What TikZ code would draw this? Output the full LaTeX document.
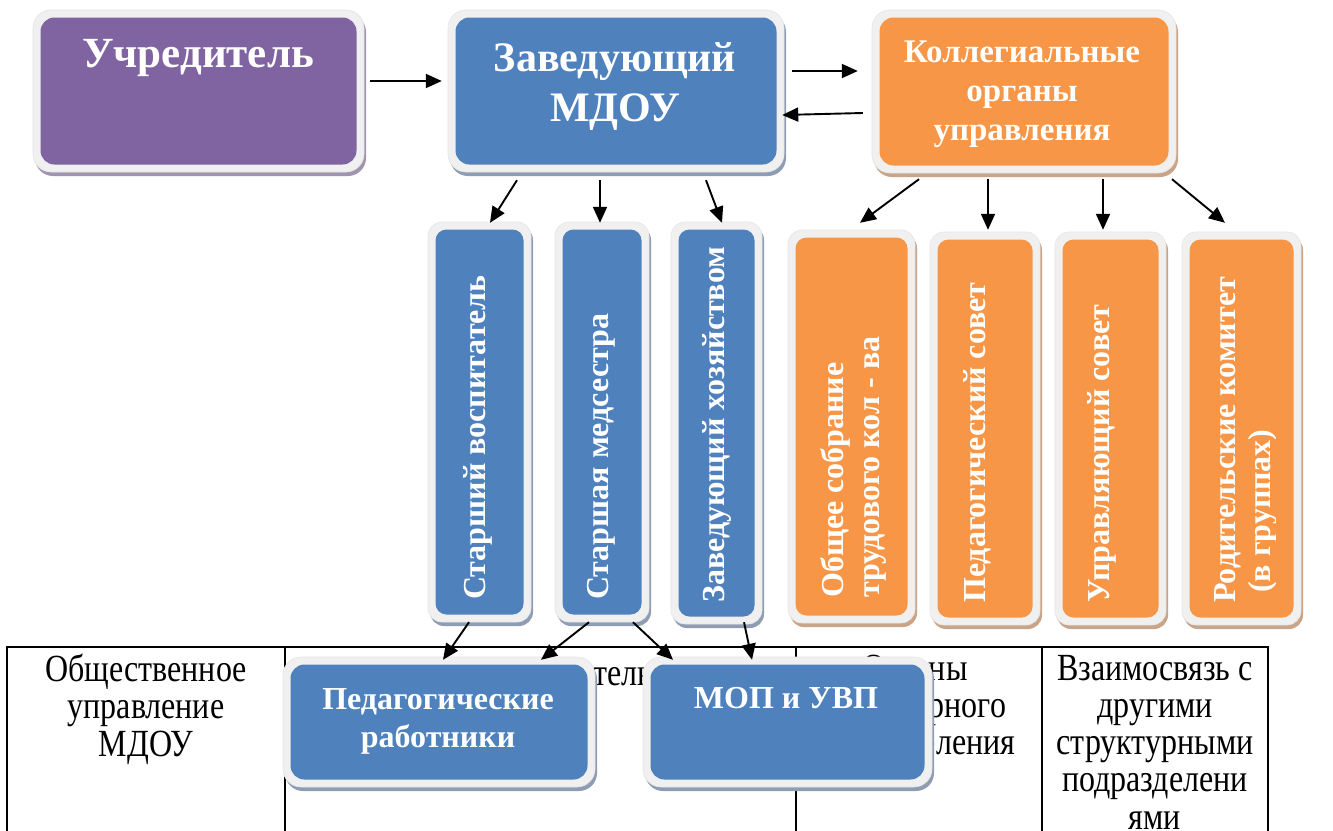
\documentclass[tikz,border=0pt]{standalone}
\usepackage{fontspec}
\usepackage{graphicx}
\setmainfont{Liberation Serif}
\usetikzlibrary{arrows.meta,calc}
\definecolor{cpur}{HTML}{8064A2}
\definecolor{cblue}{HTML}{4F81BD}
\definecolor{corange}{HTML}{F79646}
\definecolor{rimc}{HTML}{F0F0F0}
\definecolor{shblue}{HTML}{8E9DB3}
\definecolor{shpur}{HTML}{A094AE}
\definecolor{shor}{HTML}{C9A486}
\tikzset{
  arr/.style={line width=1.9pt, -{Triangle[length=16pt,width=14pt]}},
  wt/.style={text=white, inner sep=0pt},
  vt/.style={wt, rotate=90, anchor=west, font=\fontsize{32}{36}\selectfont\bfseries},
  tbl/.style={line width=2.2pt},
  ttext/.style={inner sep=0pt, anchor=north},
}
\newcommand\tcell[1]{\scalebox{1}[1.2]{\fontsize{32}{31}\selectfont\setlength\tabcolsep{0pt}\begin{tabular}{c}#1\end{tabular}}}
% name, x1, y1, x2, y2, fill, shadow, outer radius, inner radius
\newcommand\rbox[9]{%
  \fill[#7, rounded corners=#8] (#2+2,#3+4) rectangle (#4+2,#5+4);
  \fill[rimc, rounded corners=#8] (#2,#3) rectangle (#4,#5);
  \draw[black!10, line width=0.6pt, rounded corners=#8] (#2,#3) rectangle (#4,#5);
  \node[fill=#6, rounded corners=#9, inner sep=0pt, minimum width={#4-#2-15}, minimum height={#5-#3-15}] (#1) at ({(#2+#4)/2},{(#3+#5)/2}) {};
}
\begin{document}
\begin{tikzpicture}[x=1pt,y=-1pt]
\useasboundingbox (0,0) rectangle (1333,830);
\clip (0,0) rectangle (1333,830);
\fill[white] (0,0) rectangle (1333,830);

% ---- table ----
\coordinate (t0) at (7,647);
\coordinate (t1) at (285,647);
\coordinate (t2) at (796,647);
\coordinate (t3) at (1042,647);
\coordinate (t4) at (1268,647);
\draw[tbl] ([xshift=-1pt]t0) -- ([xshift=1pt]t4);
\foreach \c in {t0,t1,t2,t3,t4} \draw[tbl] (\c) -- ++(0,200);
\node[ttext] (c1) at (146,654) {\tcell{Общественное\\управление\\МДОУ}};
\node[ttext] (c2) at (527,659) {\tcell{Педагогическая деятельность}};
\node[ttext] (c3) at (915,654) {\tcell{Органы\\структурного\\подразделения}};
\node[ttext] (c4) at (1155,654) {\tcell{Взаимосвязь с\\другими\\структурными\\подразделени\\ями}};

% ---- top boxes ----
\rbox{uch}{33}{10}{364}{172}{cpur}{shpur}{18pt}{14pt}
\rbox{zav}{448}{10}{784}{172}{cblue}{shblue}{18pt}{14pt}
\rbox{kol}{872}{10}{1176}{173}{corange}{shor}{18pt}{14pt}
\node[wt, font=\fontsize{43}{50}\selectfont\bfseries] (uch-t) at (198,58) {Учредитель};
\node[wt, font=\fontsize{42}{50}\selectfont\bfseries, align=center, anchor=north] (zav-t) at (615,42) {Заведующий\\МДОУ};
\node[wt, font=\fontsize{33}{39}\selectfont\bfseries, align=center, anchor=north] (kol-t) at (1022,41) {Коллегиальные\\органы\\управления};

% ---- vertical blue boxes ----
\rbox{sv}{428}{222}{531}{622}{cblue}{shblue}{14pt}{11pt}
\rbox{sm}{555}{222}{649}{622}{cblue}{shblue}{14pt}{11pt}
\rbox{zh}{671}{222}{762}{624}{cblue}{shblue}{14pt}{11pt}
\node[vt] (sv-t) at (478,600) {Старший воспитатель};
\node[vt] (sm-t) at (601,600) {Старшая медсестра};
\node[vt] (zh-t) at (717,603) {Заведующий хозяйством};

% ---- vertical orange boxes ----
\rbox{os}{788}{230}{915}{623}{corange}{shor}{14pt}{11pt}
\rbox{ps}{930}{232}{1040}{625}{corange}{shor}{14pt}{11pt}
\rbox{us}{1055}{232}{1166}{625}{corange}{shor}{14pt}{11pt}
\rbox{rk}{1182}{232}{1301}{625}{corange}{shor}{14pt}{11pt}
\node[vt] (os-t1) at (835,598) {Общее собрание};
\node[vt] (os-t2) at (875,598) {трудового кол - ва};
\node[vt] (ps-t) at (977,603) {Педагогический совет};
\node[vt] (us-t) at (1102,603) {Управляющий совет};
\node[vt] (rk-t1) at (1228,603) {Родительские комитет};
\begin{scope}
  \clip (1182,232) rectangle (1275,625);
  \node[vt] (rk-t2) at (1263,593) {(в группах)};
\end{scope}

% ---- bottom boxes ----
\rbox{pr}{283}{657}{595}{787}{cblue}{shblue}{18pt}{14pt}
\rbox{mop}{643}{657}{932}{787}{cblue}{shblue}{18pt}{14pt}
\node[wt, font=\fontsize{32}{38}\selectfont\bfseries, align=center, anchor=north] (pr-t) at (438,688) {Педагогические\\работники};
\node[wt, font=\fontsize{32}{38}\selectfont\bfseries, anchor=north] (mop-t) at (786,687) {МОП и УВП};

% ---- connectors ----
\draw[arr] ([xshift=13.5pt,yshift=10pt]uch.east) -- ([xshift=-13.5pt,yshift=10pt]zav.west);
\draw[arr] ([xshift=15.5pt,yshift=20pt]zav.east) -- ([xshift=-21.5pt,yshift=20.5pt]kol.west);
\draw[arr] ([xshift=-16.5pt,yshift=-21.5pt]kol.west) -- ([xshift=5.5pt,yshift=-24pt]zav.east);

\draw[arr] ([xshift=-99pt,yshift=-15.5pt]zav.south) -- ([xshift=10.5pt,yshift=6.5pt]sv.north);
\draw[arr] ([xshift=-16pt,yshift=-15.5pt]zav.south) -- ([xshift=-2pt,yshift=6.5pt]sm.north);
\draw[arr] ([xshift=90pt,yshift=-15.5pt]zav.south) -- ([xshift=5.5pt,yshift=6.5pt]zh.north);

\draw[arr] ([xshift=-105pt,yshift=-13.5pt]kol.south) -- ([xshift=8.5pt,yshift=14.5pt]os.north);
\draw[arr] ([xshift=-36pt,yshift=-13.5pt]kol.south) -- ([xshift=3pt,yshift=9.5pt]ps.north);
\draw[arr] ([xshift=79pt,yshift=-13.5pt]kol.south) -- ([xshift=-7.5pt,yshift=9.5pt]us.north);
\draw[arr] ([xshift=148pt,yshift=-13.5pt]kol.south) -- ([xshift=-16.5pt,yshift=16.5pt]rk.north);

\draw[arr] ([xshift=-10.5pt,yshift=-7.5pt]sv.south) -- ([xshift=4pt,yshift=4.5pt]pr.north);
\draw[arr] ([xshift=-13pt,yshift=-7.5pt]sm.south) -- ([xshift=102pt,yshift=4.5pt]pr.north);
\draw[arr] ([xshift=31pt,yshift=-7.5pt]sm.south) -- ([xshift=-114.5pt,yshift=4.5pt]mop.north);
\draw[arr] ([xshift=27.5pt,yshift=-5.5pt]zh.south) -- ([xshift=-35.5pt,yshift=4.5pt]mop.north);
\end{tikzpicture}
\end{document}
